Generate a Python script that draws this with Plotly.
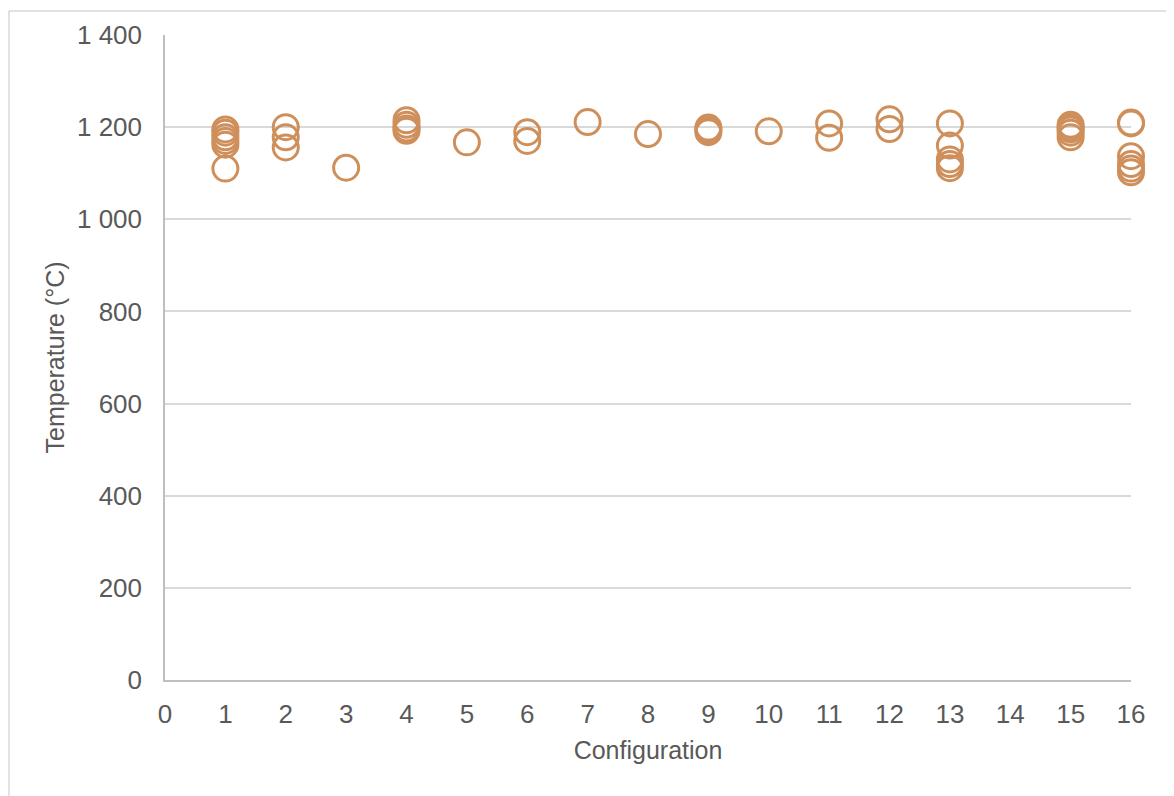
import plotly.graph_objects as go

# Data
config = [1, 1, 1, 1, 1, 1,
          2, 2, 2,
          3,
          4, 4, 4, 4,
          5,
          6, 6,
          7,
          8,
          9, 9, 9,
          10,
          11, 11,
          12, 12,
          13, 13, 13, 13, 13,
          15, 15, 15, 15, 15,
          16, 16, 16, 16, 16, 16]
temperature = [1195, 1188, 1178, 1170, 1162, 1110,
               1200, 1178, 1156,
               1112,
               1215, 1205, 1197, 1192,
               1167,
               1189, 1170,
               1211,
               1185,
               1199, 1194, 1189,
               1191,
               1208, 1177,
               1217, 1196,
               1208, 1160, 1130, 1120, 1111,
               1205, 1200, 1195, 1188, 1178,
               1210, 1208, 1137, 1120, 1110, 1102]

x_ticks = list(range(0, 17))
y_ticks = [0, 200, 400, 600, 800, 1000, 1200, 1400]
y_tick_labels = ["0", "200", "400", "600", "800", "1 000", "1 200", "1 400"]

color = "#CF8F5B"
text_color = "#595959"
font_family = "Liberation Sans, Arial, sans-serif"

# page body has an 8px margin; compensate
L, T = 157, 25
PW, PH = 966, 647

fig = go.Figure()
fig.add_trace(go.Scatter(
    x=config, y=temperature, mode="markers",
    marker=dict(symbol="circle-open", size=25, color=color,
                line=dict(width=3, color=color)),
    cliponaxis=False,
    showlegend=False,
))

fig.update_layout(
    width=1174, height=796,
    margin=dict(l=L, r=1174 - L - PW, t=T, b=796 - T - PH),
    paper_bgcolor="white", plot_bgcolor="white",
    font=dict(family=font_family, size=26, color=text_color),
    xaxis=dict(
        range=[0, 16], tickvals=x_ticks, ticktext=[str(v) for v in x_ticks],
        showgrid=False, zeroline=False,
        showline=True, linecolor="#BFBFBF", linewidth=1.5,
        ticks="", ticklabelstandoff=10,
        title=dict(text="Configuration", standoff=14,
                   font=dict(size=25, color=text_color)),
        tickfont=dict(size=26, color=text_color),
    ),
    yaxis=dict(
        range=[0, 1400], tickvals=y_ticks, ticktext=y_tick_labels,
        showgrid=True, gridcolor="#D9D9D9", gridwidth=1.5,
        zeroline=False,
        showline=True, linecolor="#BFBFBF", linewidth=1.5,
        ticks="", ticklabelstandoff=16,
        title=dict(text="Temperature (°C)", standoff=5,
                   font=dict(size=25, color=text_color)),
        tickfont=dict(size=26, color=text_color),
    ),
    shapes=[
        dict(type="line", xref="paper", yref="paper",
             x0=(1 - L) / PW, x1=(1200 - L) / PW,
             y0=(PH + T - 1) / PH, y1=(PH + T - 1) / PH,
             line=dict(color="#D9D9D9", width=1.5)),
        dict(type="line", xref="paper", yref="paper",
             x0=(1 - L) / PW, x1=(1 - L) / PW,
             y0=(PH + T - 1) / PH, y1=-200 / PH,
             line=dict(color="#D9D9D9", width=1.5)),
    ],
)

fig.write_html("out.html")
